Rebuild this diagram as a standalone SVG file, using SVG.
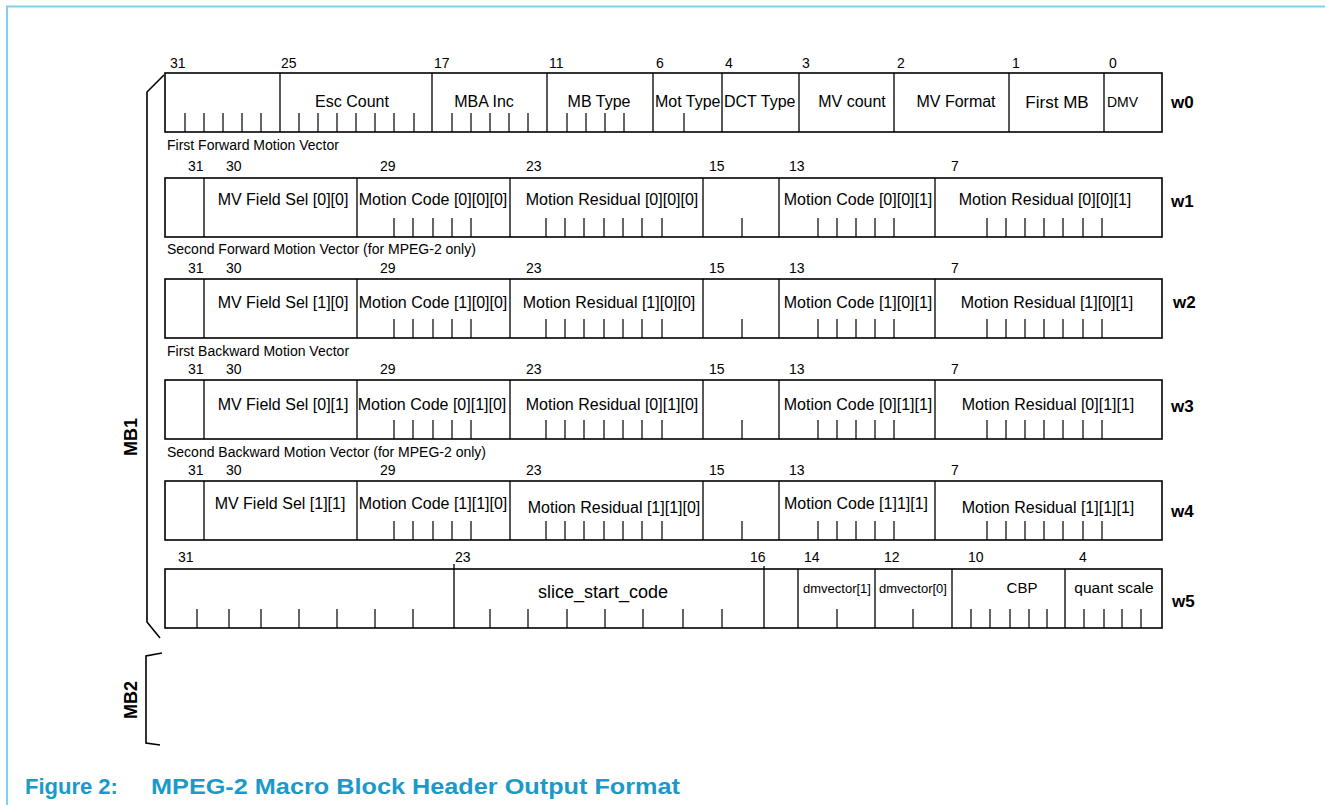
<svg xmlns="http://www.w3.org/2000/svg" width="1325" height="805" viewBox="0 0 1325 805">
<style>
.bd{stroke:#000;stroke-width:1.6;fill:none}
.dv{stroke:#000;stroke-width:1.3;fill:none}
.tk{stroke:#000;stroke-width:1.2;fill:none}
text{font-family:"Liberation Sans",Arial,sans-serif;fill:#000}
.bit{font-size:14px}
.fld{font-size:16px}
.cap{font-size:14px}
.w{font-size:17px;font-weight:bold}
.mb{font-size:18px;font-weight:bold}
.sm{font-size:13px}
.fig{font-size:22px;font-weight:bold;fill:#1b9ac9}
.c{text-anchor:middle}
</style>
<rect width="1325" height="805" fill="#fff"/>
<path d="M7,805 V6.5 H1325" stroke="#7fd2ea" stroke-width="2" fill="none"/>

<g id="brackets">
<path class="bd" d="M164,75 L147,92 V622 L160,638"/>
<path class="bd" d="M162,653 L146,656 V743 L160,745"/>
<text class="mb c" transform="translate(137,437) rotate(-90)">MB1</text>
<text class="mb c" transform="translate(137,700) rotate(-90)">MB2</text>
</g>

<g id="w0">
<rect class="bd" x="165" y="73" width="997" height="59"/>
<path class="dv" d="M280,73V132M432,73V132M547,73V132M653,73V132M722,73V132M799,73V132M894,73V132M1009,73V132M1104,73V132"/>
<path class="tk" d="M185,113V132M204,113V132M223,113V132M242,113V132M261,113V132M299,113V132M318,113V132M337,113V132M356,113V132M375,113V132M394,113V132M414,113V132M452,113V132M471,113V132M490,113V132M509,113V132M528,113V132M567,113V132M586,113V132M605,113V132M624,113V132M684,113V132"/>
<text class="bit" y="68"><tspan x="170">31</tspan><tspan x="281">25</tspan><tspan x="434">17</tspan><tspan x="549">11</tspan><tspan x="656">6</tspan><tspan x="725">4</tspan><tspan x="802">3</tspan><tspan x="897">2</tspan><tspan x="1012">1</tspan><tspan x="1109">0</tspan></text>
<text class="fld c" x="352" y="107">Esc Count</text>
<text class="fld c" x="484" y="107">MBA Inc</text>
<text class="fld c" x="599" y="107">MB Type</text>
<text class="fld" x="655" y="107">Mot Type</text>
<text class="fld" x="724" y="107">DCT Type</text>
<text class="fld c" x="852" y="107">MV count</text>
<text class="fld c" x="956" y="107">MV Format</text>
<text class="fld c" x="1057" y="108" style="font-size:17px">First MB</text>
<text class="fld" x="1107" y="107" style="font-size:14px">DMV</text>
<text class="w" x="1171" y="108">w0</text>
</g>

<g id="w1">
<text class="cap" x="167" y="150">First Forward Motion Vector</text>
<text class="bit" y="171"><tspan x="188">31</tspan><tspan x="226">30</tspan><tspan x="380">29</tspan><tspan x="526">23</tspan><tspan x="709">15</tspan><tspan x="789">13</tspan><tspan x="951">7</tspan></text>
<rect class="bd" x="165" y="178" width="997" height="59"/>
<path class="dv" d="M204,178V237M357,178V237M510,178V237M703,178V237M779,178V237M935,178V237"/>
<path class="tk" d="M394,218V237M413,218V237M433,218V237M452,218V237M471,218V237M546,218V237M565,218V237M584,218V237M604,218V237M623,218V237M642,218V237M662,218V237M742,218V237M818,218V237M837,218V237M856,218V237M875,218V237M894,218V237M987,218V237M1006,218V237M1025,218V237M1044,218V237M1063,218V237M1083,218V237M1102,218V237"/>
<text class="fld c" x="283" y="205">MV Field Sel [0][0]</text>
<text class="fld c" x="433" y="205">Motion Code [0][0][0]</text>
<text class="fld c" x="612" y="205">Motion Residual [0][0][0]</text>
<text class="fld c" x="858" y="205">Motion Code [0][0][1]</text>
<text class="fld c" x="1045" y="205">Motion Residual [0][0][1]</text>
<text class="w" x="1171" y="207">w1</text>
</g>

<g id="w2">
<text class="cap" x="167" y="254">Second Forward Motion Vector (for MPEG-2 only)</text>
<text class="bit" y="273"><tspan x="188">31</tspan><tspan x="226">30</tspan><tspan x="380">29</tspan><tspan x="526">23</tspan><tspan x="709">15</tspan><tspan x="789">13</tspan><tspan x="951">7</tspan></text>
<rect class="bd" x="165" y="279" width="997" height="59"/>
<path class="dv" d="M204,279V338M357,279V338M510,279V338M703,279V338M779,279V338M935,279V338"/>
<path class="tk" d="M394,319V338M413,319V338M433,319V338M452,319V338M471,319V338M546,319V338M565,319V338M584,319V338M604,319V338M623,319V338M642,319V338M662,319V338M742,319V338M818,319V338M837,319V338M856,319V338M875,319V338M894,319V338M987,319V338M1006,319V338M1025,319V338M1044,319V338M1063,319V338M1083,319V338M1102,319V338"/>
<text class="fld c" x="283" y="308">MV Field Sel [1][0]</text>
<text class="fld c" x="433" y="308">Motion Code [1][0][0]</text>
<text class="fld c" x="609" y="308">Motion Residual [1][0][0]</text>
<text class="fld c" x="858" y="308">Motion Code [1][0][1]</text>
<text class="fld c" x="1047" y="308">Motion Residual [1][0][1]</text>
<text class="w" x="1173" y="308">w2</text>
</g>

<g id="w3">
<text class="cap" x="167" y="356">First Backward Motion Vector</text>
<text class="bit" y="374"><tspan x="188">31</tspan><tspan x="226">30</tspan><tspan x="380">29</tspan><tspan x="526">23</tspan><tspan x="709">15</tspan><tspan x="789">13</tspan><tspan x="951">7</tspan></text>
<rect class="bd" x="165" y="380" width="997" height="59"/>
<path class="dv" d="M204,380V439M357,380V439M510,380V439M703,380V439M779,380V439M935,380V439"/>
<path class="tk" d="M394,420V439M413,420V439M433,420V439M452,420V439M471,420V439M546,420V439M565,420V439M584,420V439M604,420V439M623,420V439M642,420V439M662,420V439M742,420V439M818,420V439M837,420V439M856,420V439M875,420V439M894,420V439M987,420V439M1006,420V439M1025,420V439M1044,420V439M1063,420V439M1083,420V439M1102,420V439"/>
<text class="fld c" x="283" y="410">MV Field Sel [0][1]</text>
<text class="fld c" x="432" y="410">Motion Code [0][1][0]</text>
<text class="fld c" x="612" y="410">Motion Residual [0][1][0]</text>
<text class="fld c" x="858" y="410">Motion Code [0][1][1]</text>
<text class="fld c" x="1048" y="410">Motion Residual [0][1][1]</text>
<text class="w" x="1171" y="412">w3</text>
</g>

<g id="w4">
<text class="cap" x="167" y="457">Second Backward Motion Vector (for MPEG-2 only)</text>
<text class="bit" y="475"><tspan x="188">31</tspan><tspan x="226">30</tspan><tspan x="380">29</tspan><tspan x="526">23</tspan><tspan x="709">15</tspan><tspan x="789">13</tspan><tspan x="951">7</tspan></text>
<rect class="bd" x="165" y="481" width="997" height="59"/>
<path class="dv" d="M204,481V540M357,481V540M510,481V540M703,481V540M779,481V540M935,481V540"/>
<path class="tk" d="M394,521V540M413,521V540M433,521V540M452,521V540M471,521V540M546,521V540M565,521V540M584,521V540M604,521V540M623,521V540M642,521V540M662,521V540M742,521V540M818,521V540M837,521V540M856,521V540M875,521V540M894,521V540M987,521V540M1006,521V540M1025,521V540M1044,521V540M1063,521V540M1083,521V540M1102,521V540"/>
<text class="fld c" x="280" y="509">MV Field Sel [1][1]</text>
<text class="fld c" x="433" y="509">Motion Code [1][1][0]</text>
<text class="fld c" x="614" y="513">Motion Residual [1][1][0]</text>
<text class="fld c" x="856" y="509">Motion Code [1]1][1]</text>
<text class="fld c" x="1048" y="513">Motion Residual [1][1][1]</text>
<text class="w" x="1171" y="517">w4</text>
</g>

<g id="w5">
<text class="bit" y="562"><tspan x="178">31</tspan><tspan x="455">23</tspan><tspan x="750">16</tspan><tspan x="804">14</tspan><tspan x="884">12</tspan><tspan x="968">10</tspan><tspan x="1079">4</tspan></text>
<rect class="bd" x="165" y="569" width="997" height="59"/>
<path class="dv" d="M454,564V628M764,566V628M798,569V628M875,569V628M952,569V628M1065,569V628"/>
<path class="tk" d="M197,609V628M229,609V628M261,609V628M299,609V628M337,609V628M375,609V628M413,609V628M490,609V628M528,609V628M567,609V628M605,609V628M643,609V628M683,609V628M722,609V628M837,609V628M913,609V628M971,609V628M990,609V628M1010,609V628M1029,609V628M1047,609V628M1084,609V628M1104,609V628M1122,609V628M1141,609V628"/>
<text class="fld c" x="603" y="598" style="font-size:18px">slice_start_code</text>
<text class="sm c" x="837" y="593">dmvector[1]</text>
<text class="sm c" x="913" y="593">dmvector[0]</text>
<text class="fld c" x="1022" y="593" style="font-size:15px">CBP</text>
<text class="fld c" x="1114" y="593" style="font-size:15.5px">quant scale</text>
<text class="w" x="1172" y="607">w5</text>
</g>

<text class="fig" x="25" y="794">Figure 2:</text>
<text class="fig" x="151" y="794" textLength="529" lengthAdjust="spacingAndGlyphs">MPEG-2 Macro Block Header Output Format</text>
</svg>
